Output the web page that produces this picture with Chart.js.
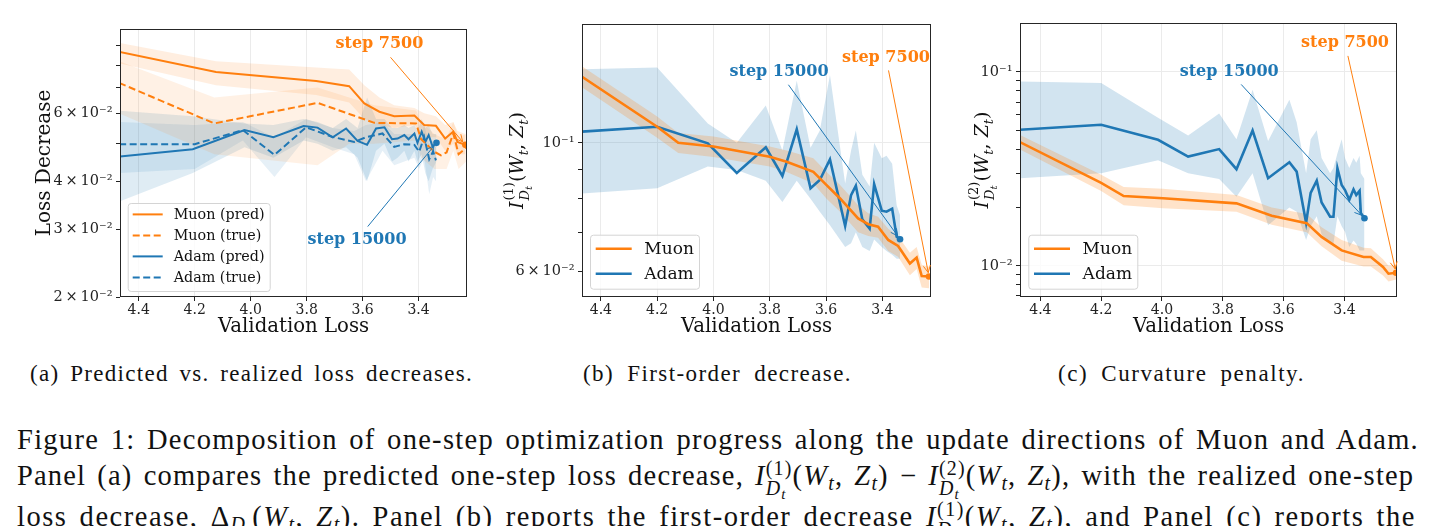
<!DOCTYPE html>
<html lang="en">
<head>
<meta charset="UTF-8" />
<title>Muon vs Adam: one-step progress decomposition</title>
<script src="https://cdn.jsdelivr.net/npm/chart.js"></script>
<style>
  html, body { margin: 0; padding: 0; background: #fff; }
  #fig { position: relative; width: 1435px; height: 526px; overflow: hidden; background: #fff; }
  canvas { position: absolute; top: 0; }
  .txt { position: absolute; white-space: nowrap; font-family: 'Liberation Serif', serif; color: #111; }
  .sub { font-size: 23px; line-height: 26px; top: 361px; }
  .cap { font-size: 28.5px; line-height: 32px; left: 17px; }
  .ss { display: inline-block; font-size: 0.7em; line-height: 1; vertical-align: -0.5em; }
  .ss > span { display: block; }
  .tt { font-size: 0.75em; position: relative; top: 0.25em; }
  sub { font-size: 0.7em; vertical-align: -0.25em; line-height: 0; }
</style>
</head>
<body>
<div id="fig">
  <canvas id="panelA" width="480" height="345" style="left:0px"></canvas>
  <canvas id="panelB" width="470" height="345" style="left:480px"></canvas>
  <canvas id="panelC" width="485" height="345" style="left:950px"></canvas>

  <div class="txt sub" style="left:30px" data-w="443">(a) Predicted vs. realized loss decreases.</div>
  <div class="txt sub" style="left:583px" data-w="269">(b) First-order decrease.</div>
  <div class="txt sub" style="left:1058px" data-w="247">(c) Curvature penalty.</div>

  <div class="txt cap" style="top:424px" data-w="1402">Figure 1: Decomposition of one-step optimization progress along the update directions of Muon and Adam.</div>
  <div class="txt cap" style="top:459px" data-w="1402">Panel (a) compares the predicted one-step loss decrease, <i>I</i><span class="ss"><span>(1)</span><span><i>D</i><i class="tt">t</i></span></span>(<i>W</i><sub><i>t</i></sub>, <i>Z</i><sub><i>t</i></sub>) &minus; <i>I</i><span class="ss"><span>(2)</span><span><i>D</i><i class="tt">t</i></span></span>(<i>W</i><sub><i>t</i></sub>, <i>Z</i><sub><i>t</i></sub>), with the realized one-step</div>
  <div class="txt cap" style="top:500px" data-w="1402">loss decrease, &Delta;<sub><i>D</i><i class="tt">t</i></sub>(<i>W</i><sub><i>t</i></sub>, <i>Z</i><sub><i>t</i></sub>). Panel (b) reports the first-order decrease <i>I</i><span class="ss"><span>(1)</span><span><i>D</i><i class="tt">t</i></span></span>(<i>W</i><sub><i>t</i></sub>, <i>Z</i><sub><i>t</i></sub>), and Panel (c) reports the</div>
</div>

<script>
  // ---------- data (x = validation loss) ----------
  const xTicks = [4.4, 4.2, 4.0, 3.8, 3.6, 3.4];

  // panel (a): predicted vs realized loss decrease
  const muonPredX_a = [4.47, 4.124, 3.766, 3.648, 3.594, 3.54, 3.487, 3.415, 3.38, 3.338, 3.305, 3.276, 3.261, 3.233];
  const muonPredY_a = [0.0867, 0.0769, 0.0728, 0.0706, 0.0637, 0.0606, 0.0590, 0.0592, 0.0560, 0.0557, 0.0516, 0.0538, 0.0506, 0.0497];
  const muonPredHi_a = [0.0915, 0.0820, 0.0790, 0.0780, 0.0710, 0.0660, 0.0630, 0.0620, 0.0600, 0.0590, 0.0560, 0.0570, 0.0540, 0.0530];
  const muonPredLo_a = [0.0810, 0.0710, 0.0670, 0.0640, 0.0580, 0.0560, 0.0550, 0.0560, 0.0520, 0.0520, 0.0480, 0.0500, 0.0470, 0.0470];

  const muonTrueX_a = [4.47, 4.13, 3.761, 3.648, 3.558, 3.409, 3.391, 3.344, 3.32, 3.30, 3.276, 3.257, 3.23];
  const muonTrueY_a = [0.0720, 0.0565, 0.0639, 0.0598, 0.0567, 0.0565, 0.0514, 0.0477, 0.0467, 0.0475, 0.0532, 0.0470, 0.0488];
  const muonTrueHi_a = [0.0820, 0.0660, 0.0700, 0.0660, 0.0630, 0.0610, 0.0570, 0.0530, 0.0520, 0.0520, 0.0570, 0.0520, 0.0530];
  const muonTrueLo_a = [0.0600, 0.0470, 0.0440, 0.0500, 0.0500, 0.0510, 0.0460, 0.0430, 0.0430, 0.0430, 0.0480, 0.0430, 0.0450];

  const adamPredX_a = [4.47, 4.207, 4.022, 3.919, 3.811, 3.761, 3.707, 3.659, 3.618, 3.584, 3.552, 3.522, 3.495, 3.475, 3.451, 3.436, 3.415, 3.404, 3.389, 3.376, 3.364, 3.35, 3.336];
  const adamPredY_a = [0.0463, 0.0484, 0.0543, 0.0520, 0.0556, 0.0551, 0.0520, 0.0548, 0.0509, 0.0497, 0.0548, 0.0552, 0.0514, 0.0516, 0.0527, 0.0514, 0.0532, 0.0503, 0.0538, 0.0506, 0.0527, 0.0492, 0.0503];
  const adamPredHi_a = [0.0610, 0.0590, 0.0565, 0.0560, 0.0580, 0.0570, 0.0550, 0.0580, 0.0550, 0.0660, 0.0580, 0.0580, 0.0550, 0.0550, 0.0560, 0.0550, 0.0560, 0.0540, 0.0580, 0.0550, 0.0560, 0.0530, 0.0530];
  const adamPredLo_a = [0.0354, 0.0420, 0.0490, 0.0460, 0.0510, 0.0500, 0.0480, 0.0490, 0.0460, 0.0400, 0.0480, 0.0500, 0.0450, 0.0460, 0.0480, 0.0450, 0.0480, 0.0450, 0.0470, 0.0420, 0.0400, 0.0430, 0.0450];

  const adamTrueX_a = [4.47, 4.2, 4.028, 3.915, 3.802, 3.707, 3.63, 3.588, 3.529, 3.487, 3.451, 3.415, 3.398, 3.38, 3.362, 3.348, 3.338];
  const adamTrueY_a = [0.0499, 0.0499, 0.0543, 0.0468, 0.0552, 0.0521, 0.0506, 0.0520, 0.0532, 0.0491, 0.0499, 0.0497, 0.0477, 0.0521, 0.0456, 0.0478, 0.0453];
  const adamTrueHi_a = [0.0570, 0.0560, 0.0570, 0.0520, 0.0580, 0.0550, 0.0540, 0.0560, 0.0570, 0.0530, 0.0530, 0.0530, 0.0510, 0.0560, 0.0500, 0.0510, 0.0490];
  const adamTrueLo_a = [0.0420, 0.0430, 0.0510, 0.0410, 0.0520, 0.0490, 0.0470, 0.0400, 0.0480, 0.0440, 0.0450, 0.0460, 0.0430, 0.0460, 0.0370, 0.0410, 0.0400];

  // panel (b): first-order decrease
  const muonX_b = [4.47, 4.2, 4.125, 4.0, 3.8, 3.74, 3.645, 3.598, 3.55, 3.486, 3.45, 3.415, 3.379, 3.344, 3.302, 3.278, 3.26, 3.234];
  const muonY_b = [0.1304, 0.1066, 0.1000, 0.0985, 0.0946, 0.0927, 0.0891, 0.0845, 0.0801, 0.0740, 0.0723, 0.0716, 0.0679, 0.0663, 0.0618, 0.0633, 0.0588, 0.0587];
  const muonHi_b = [0.1360, 0.1110, 0.1040, 0.1025, 0.0985, 0.0970, 0.0940, 0.0890, 0.0845, 0.0780, 0.0755, 0.0745, 0.0710, 0.0690, 0.0645, 0.0660, 0.0615, 0.0610];
  const muonLo_b = [0.1250, 0.1020, 0.0960, 0.0945, 0.0910, 0.0890, 0.0850, 0.0800, 0.0760, 0.0700, 0.0690, 0.0685, 0.0650, 0.0635, 0.0590, 0.0605, 0.0562, 0.0560];

  const adamX_b = [4.47, 4.20, 4.02, 3.917, 3.814, 3.755, 3.704, 3.655, 3.622, 3.586, 3.532, 3.511, 3.494, 3.471, 3.445, 3.429, 3.402, 3.385, 3.365, 3.349, 3.337];
  const adamY_b = [0.1045, 0.1066, 0.0998, 0.0887, 0.0982, 0.0876, 0.1055, 0.0834, 0.0862, 0.0936, 0.0718, 0.0812, 0.0843, 0.0737, 0.0710, 0.0848, 0.0763, 0.0760, 0.0769, 0.0688, 0.0681];
  const adamHi_b = [0.134, 0.135, 0.108, 0.100, 0.116, 0.097, 0.128, 0.098, 0.105, 0.131, 0.085, 0.097, 0.105, 0.088, 0.084, 0.100, 0.094, 0.095, 0.092, 0.078, 0.075];
  const adamLo_b = [0.0817, 0.0834, 0.091, 0.0897, 0.086, 0.079, 0.086, 0.080, 0.076, 0.072, 0.066, 0.067, 0.070, 0.066, 0.065, 0.068, 0.066, 0.065, 0.064, 0.063, 0.063];

  // panel (c): curvature penalty
  const muonX_c = [4.47, 4.2, 4.126, 3.997, 3.755, 3.639, 3.524, 3.475, 3.409, 3.337, 3.313, 3.273, 3.255, 3.23];
  const muonY_c = [0.0437, 0.0268, 0.0229, 0.0223, 0.0210, 0.0181, 0.0166, 0.0141, 0.0120, 0.0111, 0.0111, 0.00987, 0.0091, 0.0092];
  const muonHi_c = [0.0475, 0.0295, 0.0255, 0.0250, 0.0232, 0.0200, 0.0185, 0.0158, 0.0136, 0.0124, 0.0123, 0.0108, 0.0100, 0.0100];
  const muonLo_c = [0.0400, 0.0243, 0.0205, 0.0198, 0.0190, 0.0163, 0.0149, 0.0126, 0.0106, 0.0099, 0.0099, 0.0089, 0.0083, 0.0085];

  const adamX_c = [4.47, 4.2, 4.013, 3.914, 3.812, 3.755, 3.702, 3.651, 3.581, 3.557, 3.526, 3.511, 3.491, 3.475, 3.447, 3.436, 3.423, 3.409, 3.398, 3.384, 3.370, 3.361, 3.35, 3.346, 3.334];
  const adamY_c = [0.0503, 0.0534, 0.0447, 0.0366, 0.0400, 0.0315, 0.0499, 0.0283, 0.0342, 0.0306, 0.0167, 0.0238, 0.0275, 0.0212, 0.0179, 0.0179, 0.0319, 0.0261, 0.0246, 0.0219, 0.0248, 0.0232, 0.0244, 0.0187, 0.0176];
  const adamHi_c = [0.0894, 0.0877, 0.058, 0.047, 0.061, 0.045, 0.081, 0.044, 0.072, 0.055, 0.030, 0.045, 0.050, 0.036, 0.030, 0.032, 0.038, 0.045, 0.036, 0.032, 0.036, 0.034, 0.037, 0.030, 0.028];
  const adamLo_c = [0.0283, 0.030, 0.035, 0.030, 0.028, 0.0227, 0.030, 0.0162, 0.020, 0.019, 0.0136, 0.016, 0.018, 0.0145, 0.013, 0.013, 0.018, 0.016, 0.015, 0.0125, 0.0135, 0.013, 0.012, 0.012, 0.012];

  // y ticks (log axes) and which ones carry a label
  const TS = '\u2009';
  const yTicksA = [0.02, 0.03, 0.04, 0.05, 0.06, 0.07, 0.08, 0.09];
  const yLabelValsA = [0.02, 0.03, 0.04, 0.06];
  const yLabelTextA = ['2' + TS + '\u00d7' + TS + '10\u207b\u00b2', '3' + TS + '\u00d7' + TS + '10\u207b\u00b2',
                       '4' + TS + '\u00d7' + TS + '10\u207b\u00b2', '6' + TS + '\u00d7' + TS + '10\u207b\u00b2'];
  const yTicksB = [0.06, 0.07, 0.08, 0.09, 0.1];
  const yLabelValsB = [0.06, 0.1];
  const yLabelTextB = ['6' + TS + '\u00d7' + TS + '10\u207b\u00b2', '10\u207b\u00b9'];
  const yTicksC = [0.007, 0.008, 0.009, 0.01, 0.02, 0.03, 0.04, 0.05, 0.06, 0.07, 0.08, 0.09, 0.1];
  const yLabelValsC = [0.01, 0.1];
  const yLabelTextC = ['10\u207b\u00b2', '10\u207b\u00b9'];
  const decades = [0.01, 0.1];

  // ---------- styling ----------
  const SERIF = "'DejaVu Serif', serif";
  const ORANGE = '#ff7f0e', BLUE = '#1f77b4';
  const DASH = [7, 3.5];
  Chart.defaults.font.family = SERIF;

  const pts = (xs, ys) => xs.map((x, i) => ({ x: x, y: ys[i] }));

  function line(label, xs, ys, color, width, dash, dot) {
    return {
      label: label, data: pts(xs, ys), borderColor: color, backgroundColor: color,
      borderWidth: width, borderDash: dash, fill: false, tension: 0, order: 0, clip: 0,
      pointRadius: c => (dot && c.dataIndex === c.dataset.data.length - 1) ? 3.3 : 0,
      pointBorderWidth: 0, pointHoverRadius: 0
    };
  }
  function band(xs, lo, hi, color) {
    return [
      { band: true, data: pts(xs, hi), borderWidth: 0, pointRadius: 0, fill: false, order: 1, clip: 0 },
      { band: true, data: pts(xs, lo), borderWidth: 0, pointRadius: 0, fill: '-1', backgroundColor: color, order: 1, clip: 0 }
    ];
  }

  // ---------- plugins ----------
  const axesFrame = {
    id: 'axesFrame',
    afterDatasetsDraw(chart) {
      const { ctx, chartArea: a } = chart;
      ctx.save();
      ctx.strokeStyle = '#262626';
      ctx.lineWidth = 1;
      ctx.strokeRect(Math.round(a.left) + 0.5, Math.round(a.top) + 0.5, Math.round(a.right - a.left) - 1, Math.round(a.bottom - a.top) - 1);
      ctx.restore();
    }
  };

  const boxLegend = {
    id: 'boxLegend',
    afterDraw(chart, args, o) {
      const { ctx, chartArea: a } = chart;
      const items = chart.data.datasets.filter(d => !d.band);
      const x0 = a.left + o.dx, y0 = a.bottom - o.dy - o.h;
      ctx.save();
      ctx.beginPath();
      ctx.roundRect(x0 + 0.5, y0 + 0.5, o.w, o.h, 3);
      ctx.fillStyle = 'rgba(255,255,255,0.8)';
      ctx.fill();
      ctx.strokeStyle = '#d4d4d4';
      ctx.lineWidth = 1;
      ctx.stroke();
      ctx.font = o.size + 'px ' + SERIF;
      ctx.textBaseline = 'middle';
      items.forEach((d, i) => {
        const y = y0 + o.first + i * o.row;
        ctx.beginPath();
        ctx.setLineDash(d.borderDash);
        ctx.strokeStyle = d.borderColor;
        ctx.lineWidth = d.borderWidth;
        ctx.moveTo(x0 + o.lx, y);
        ctx.lineTo(x0 + o.lx + o.len, y);
        ctx.stroke();
        ctx.setLineDash([]);
        ctx.fillStyle = '#111';
        ctx.fillText(d.label, x0 + o.tx, y + 1);
      });
      ctx.restore();
    }
  };

  // "step N" labels with an arrow to the last point of a series
  const stepNotes = {
    id: 'stepNotes',
    afterDraw(chart, args, o) {
      const { ctx, scales } = chart;
      ctx.save();
      ctx.font = 'bold ' + o.size + 'px ' + SERIF;
      ctx.textAlign = 'center';
      ctx.textBaseline = 'middle';
      o.notes.forEach(n => {
        const meta = chart.getDatasetMeta(n.target);
        const p = meta.data[meta.data.length - 1];
        const cx = scales.x.getPixelForValue(n.x), cy = scales.y.getPixelForValue(n.y);
        const hw = ctx.measureText(n.text).width / 2 + 2, hh = 13;
        const dx = p.x - cx, dy = p.y - cy;
        const t = Math.min(hw / Math.abs(dx), hh / Math.abs(dy));
        const sx = cx + dx * t, sy = cy + dy * t;
        const len = Math.hypot(p.x - sx, p.y - sy);
        const ux = (p.x - sx) / len, uy = (p.y - sy) / len;
        const ex = p.x - ux * 4, ey = p.y - uy * 4;
        ctx.strokeStyle = n.color;
        ctx.lineWidth = 1;
        ctx.beginPath();
        ctx.moveTo(sx, sy);
        ctx.lineTo(ex, ey);
        ctx.moveTo(ex - ux * 7 - uy * 3.5, ey - uy * 7 + ux * 3.5);
        ctx.lineTo(ex, ey);
        ctx.lineTo(ex - ux * 7 + uy * 3.5, ey - uy * 7 - ux * 3.5);
        ctx.stroke();
        ctx.fillStyle = n.color;
        ctx.fillText(n.text, cx, cy);
      });
      ctx.restore();
    }
  };

  // rotated y label  I^{(k)}_{D_t}(W_t, Z_t)
  const mathYLabel = {
    id: 'mathYLabel',
    afterDraw(chart, args, o) {
      if (!o.order) return;
      const { ctx, chartArea: a } = chart;
      const big = o.size, sm = Math.round(big * 0.7), tn = Math.round(big * 0.52);
      const it = s => 'italic ' + s + 'px ' + SERIF, rm = s => s + 'px ' + SERIF;
      const w = (txt, f) => { ctx.font = f; return ctx.measureText(txt).width; };
      ctx.save();
      const sup = ['(' + o.order + ')', rm(sm), -0.55];
      const subD = ['D', it(sm), 0.28], subT = ['t', it(tn), 0.45];
      const stackW = Math.max(w(sup[0], sup[1]), w(subD[0], subD[1]) + w(subT[0], subT[1]));
      const tail = [['(', rm(big), 0], ['W', it(big), 0], ['t', it(sm), 0.25], [', ', rm(big), 0],
                    ['Z', it(big), 0], ['t', it(sm), 0.25], [')', rm(big), 0]];
      const iW = w('I', it(big)) + 1;
      const total = iW + stackW + tail.reduce((s, p) => s + w(p[0], p[1]), 0);
      ctx.translate(o.x, (a.top + a.bottom) / 2);
      ctx.rotate(-Math.PI / 2);
      ctx.fillStyle = '#111';
      ctx.textBaseline = 'alphabetic';
      const base = big * 0.35;
      let x = -total / 2;
      const put = (p) => { ctx.font = p[1]; ctx.fillText(p[0], x, base + p[2] * big); x += ctx.measureText(p[0]).width; };
      put(['I', it(big), 0]); x += 1;
      const sx = x;
      put(sup);
      x = sx; put(subD); put(subT);
      x = sx + stackW;
      tail.forEach(put);
      ctx.restore();
    }
  };

  // ---------- panel factory ----------
  function makePanel(id, p) {
    const el = document.getElementById(id);
    const W = el.width, H = el.height;
    return new Chart(el, {
      type: 'line',
      data: { datasets: p.datasets },
      options: {
        animation: false, responsive: false, events: [],
        layout: { padding: { left: 0, top: p.area.top, right: W - p.area.right, bottom: 0 } },
        scales: {
          x: {
            type: 'linear', reverse: true, min: 3.227, max: 4.467,
            afterBuildTicks: s => { s.ticks = xTicks.map(v => ({ value: v })); },
            afterFit: s => { s.height = H - p.area.bottom; },
            ticks: { callback: v => v.toFixed(1), font: { size: 14 }, color: '#222', padding: 1, maxRotation: 0, autoSkip: false },
            grid: { color: '#ebebeb', lineWidth: 1, tickColor: '#222', tickLength: 4 },
            border: { display: false },
            title: { display: true, text: 'Validation Loss', font: { size: 19.7 }, color: '#111', padding: { top: 0, bottom: 6 } }
          },
          y: {
            type: 'logarithmic', min: p.yMin, max: p.yMax,
            afterBuildTicks: s => { s.ticks = p.yTicks.map(v => ({ value: v, major: decades.includes(v) })); },
            afterFit: s => { s.width = p.area.left; },
            ticks: {
              callback: v => { const i = p.yLabelVals.indexOf(v); return i < 0 ? '' : p.yLabelText[i]; },
              font: { size: 14.5 }, color: '#222', padding: 3.5, autoSkip: false
            },
            grid: { color: c => (c.tick && c.tick.major) ? '#ebebeb' : 'rgba(0,0,0,0)', tickColor: '#222', tickLength: 4 },
            border: { display: false },
            title: p.yTitle
          }
        },
        plugins: {
          legend: { display: false },
          tooltip: { enabled: false },
          boxLegend: p.legend,
          stepNotes: { size: 16, notes: p.notes },
          mathYLabel: p.mathLabel || {}
        }
      },
      plugins: [axesFrame, boxLegend, stepNotes, mathYLabel]
    });
  }

  makePanel('panelA', {
    area: { left: 120, right: 467, top: 29, bottom: 297 },
    yMin: 0.02, yMax: 0.0994, yTicks: yTicksA, yLabelVals: yLabelValsA, yLabelText: yLabelTextA,
    yTitle: { display: true, text: 'Loss Decrease', font: { size: 20 }, color: '#111', padding: { top: 33, bottom: 0 } },
    datasets: [
      line('Muon (pred)', muonPredX_a, muonPredY_a, ORANGE, 2, [], true),
      line('Muon (true)', muonTrueX_a, muonTrueY_a, ORANGE, 2, DASH, false),
      line('Adam (pred)', adamPredX_a, adamPredY_a, BLUE, 2, [], true),
      line('Adam (true)', adamTrueX_a, adamTrueY_a, BLUE, 2, DASH, false),
      ...band(muonPredX_a, muonPredLo_a, muonPredHi_a, 'rgba(255,127,14,0.13)'),
      ...band(muonTrueX_a, muonTrueLo_a, muonTrueHi_a, 'rgba(255,127,14,0.11)'),
      ...band(adamPredX_a, adamPredLo_a, adamPredHi_a, 'rgba(31,119,180,0.14)'),
      ...band(adamTrueX_a, adamTrueLo_a, adamTrueHi_a, 'rgba(31,119,180,0.11)')
    ],
    legend: { dx: 7.7, dy: 6, w: 142, h: 88, first: 11.4, row: 21, lx: 5, len: 30, tx: 46, size: 14.3 },
    notes: [
      { text: 'step 7500', color: ORANGE, x: 3.54, y: 0.0907, target: 0 },
      { text: 'step 15000', color: BLUE, x: 3.62, y: 0.0282, target: 2 }
    ]
  });

  makePanel('panelB', {
    area: { left: 102, right: 451, top: 24, bottom: 297 },
    yMin: 0.0541, yMax: 0.1605, yTicks: yTicksB, yLabelVals: yLabelValsB, yLabelText: yLabelTextB,
    yTitle: { display: false },
    mathLabel: { order: 1, size: 19, x: 36.7 },
    datasets: [
      line('Muon', muonX_b, muonY_b, ORANGE, 2.6, [], true),
      line('Adam', adamX_b, adamY_b, BLUE, 2.6, [], true),
      ...band(muonX_b, muonLo_b, muonHi_b, 'rgba(255,127,14,0.22)'),
      ...band(adamX_b, adamLo_b, adamHi_b, 'rgba(31,119,180,0.2)')
    ],
    legend: { dx: 8, dy: 8.3, w: 109, h: 54, first: 14, row: 25, lx: 5.7, len: 36, tx: 54.3, size: 17 },
    notes: [
      { text: 'step 7500', color: ORANGE, x: 3.387, y: 0.1405, target: 0 },
      { text: 'step 15000', color: BLUE, x: 3.767, y: 0.1327, target: 1 }
    ]
  });

  makePanel('panelC', {
    area: { left: 70, right: 447, top: 23, bottom: 297 },
    yMin: 0.0069, yMax: 0.179, yTicks: yTicksC, yLabelVals: yLabelValsC, yLabelText: yLabelTextC,
    yTitle: { display: false },
    mathLabel: { order: 2, size: 19, x: 31.7 },
    datasets: [
      line('Muon', muonX_c, muonY_c, ORANGE, 2.6, [], true),
      line('Adam', adamX_c, adamY_c, BLUE, 2.6, [], true),
      ...band(muonX_c, muonLo_c, muonHi_c, 'rgba(255,127,14,0.22)'),
      ...band(adamX_c, adamLo_c, adamHi_c, 'rgba(31,119,180,0.2)')
    ],
    legend: { dx: 8.3, dy: 8.3, w: 109, h: 54, first: 14, row: 25, lx: 5.7, len: 36, tx: 54.3, size: 17 },
    notes: [
      { text: 'step 7500', color: ORANGE, x: 3.398, y: 0.1413, target: 0 },
      { text: 'step 15000', color: BLUE, x: 3.779, y: 0.1007, target: 1 }
    ]
  });

  // stretch caption lines to the measured widths of the original (mostly between letters)
  document.querySelectorAll('[data-w]').forEach(el => {
    el.style.letterSpacing = '0px';
    el.style.wordSpacing = '0px';
    const w = el.getBoundingClientRect().width;
    const txt = el.textContent;
    const gaps = (txt.match(/ /g) || []).length;
    const extra = +el.dataset.w - w;
    el.style.wordSpacing = (extra * 0.25 / Math.max(gaps, 1)).toFixed(3) + 'px';
    el.style.letterSpacing = (extra * 0.75 / txt.length).toFixed(3) + 'px';
  });
</script>
</body>
</html>
